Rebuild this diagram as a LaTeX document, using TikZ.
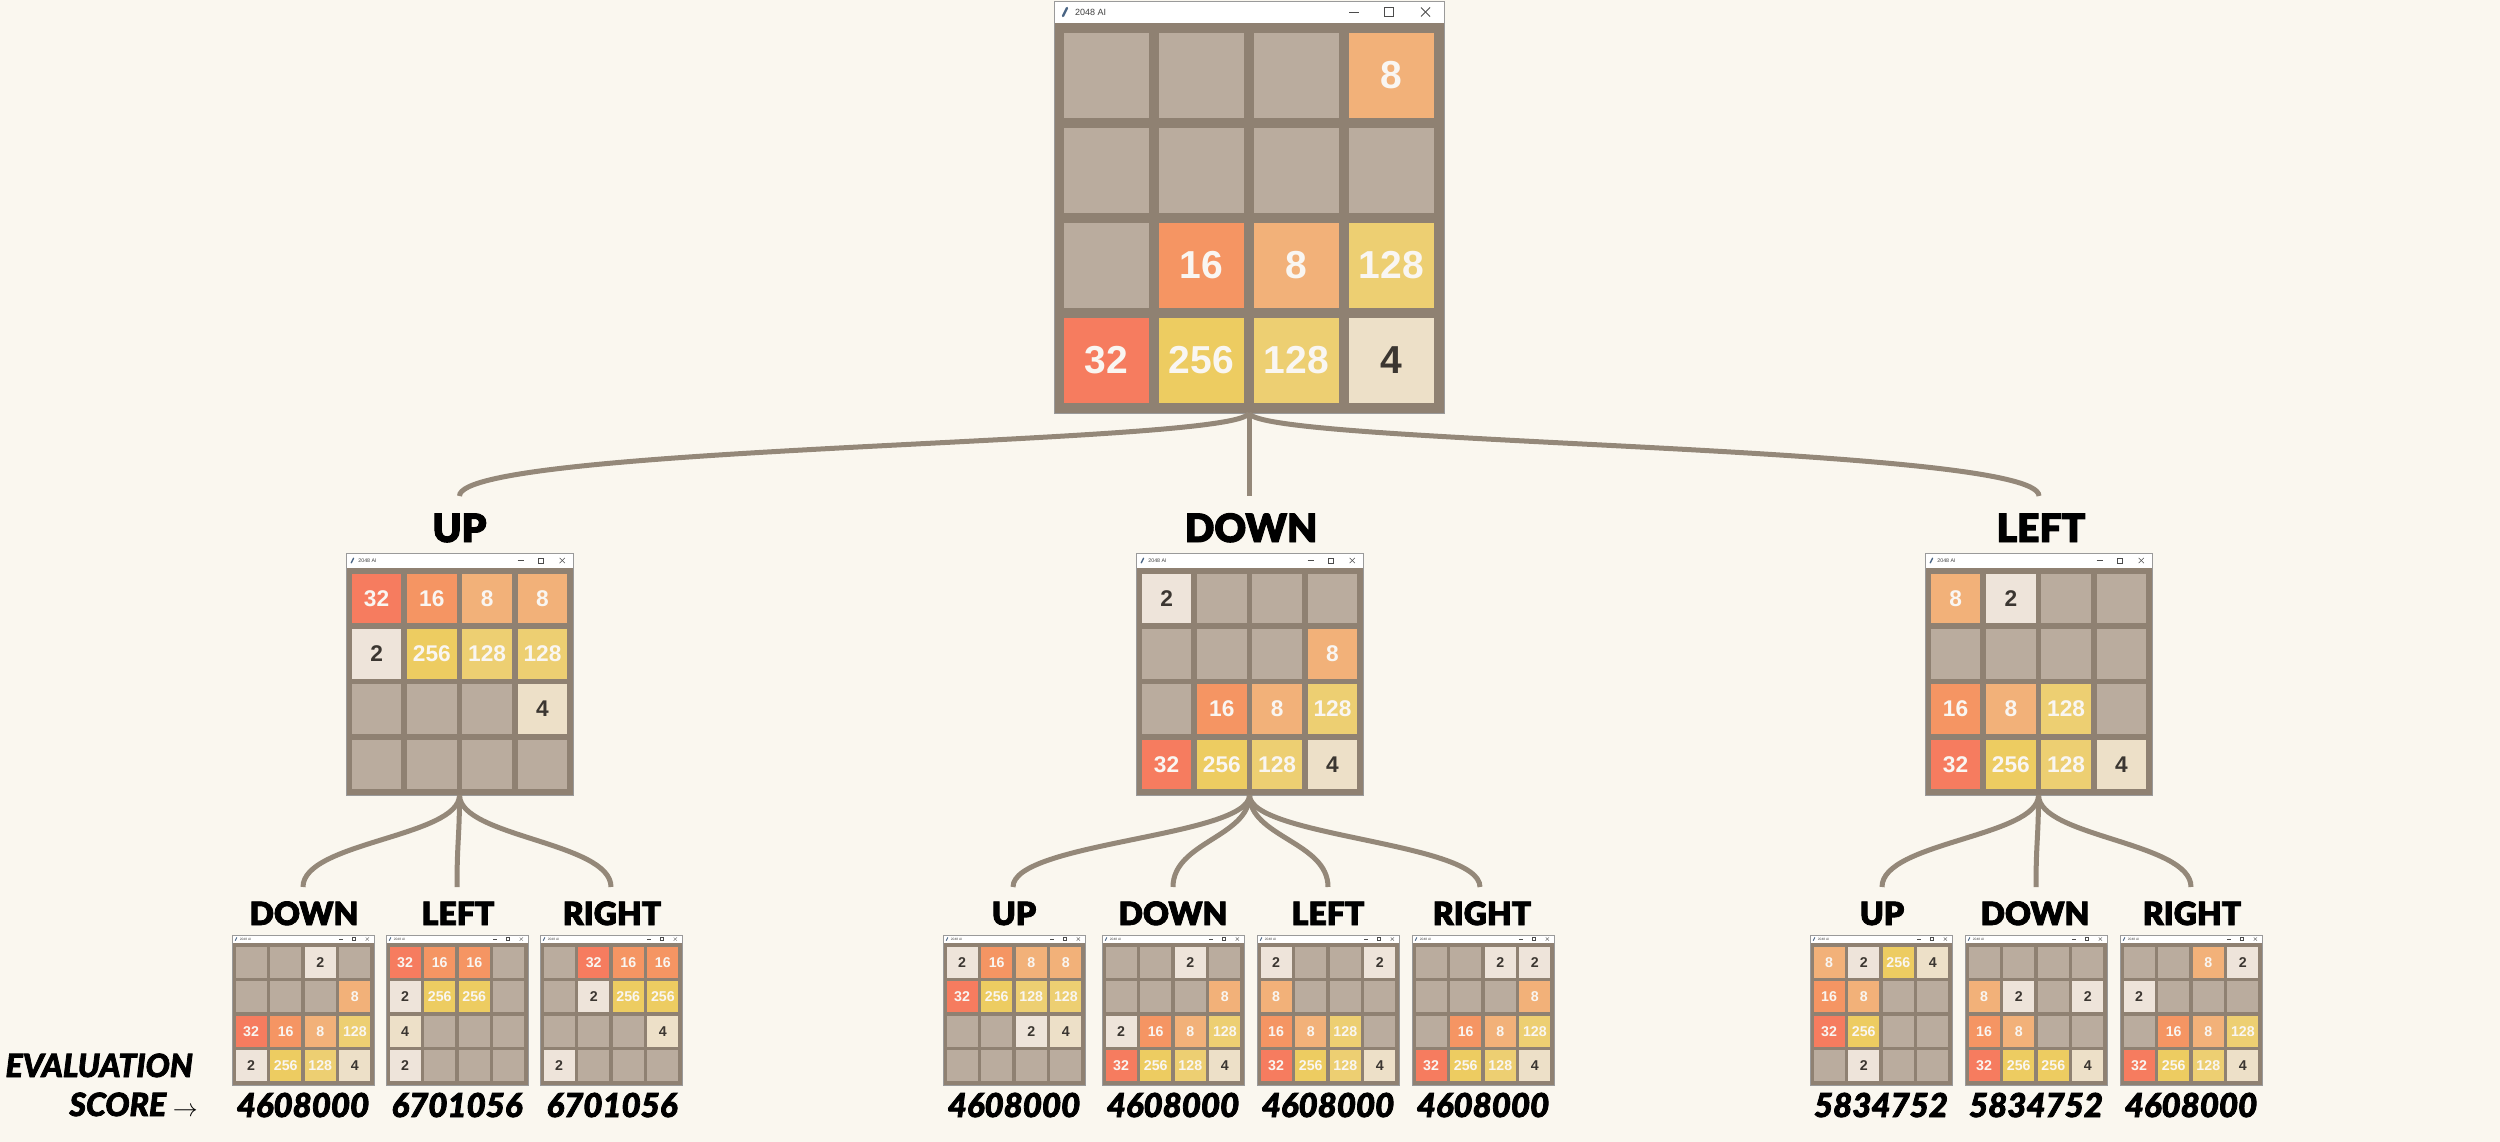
\documentclass[tikz,border=0pt]{standalone}
\usepackage{fontspec}
\setmainfont{Lato}
\newfontfamily\lblfont{Lato}[UprightFont={* Black},ItalicFont={* Black Italic},BoldFont={* Black},BoldItalicFont={* Black Italic},FakeBold=2.5,UprightFeatures={FakeBold=2.5},ItalicFeatures={FakeBold=2.5}]
\newfontfamily\tilefont{Liberation Sans}
\definecolor{bgc}{HTML}{FAF7EF}
\definecolor{boardc}{HTML}{8F8172}
\definecolor{connc}{HTML}{948879}
\definecolor{winedge}{HTML}{9A9A9A}
\definecolor{iconc}{HTML}{4A6584}
\definecolor{t0}{HTML}{BAAC9E}
\definecolor{t2}{HTML}{EEE4DA}
\definecolor{t4}{HTML}{EDE0C8}
\definecolor{t8}{HTML}{F2B179}
\definecolor{t16}{HTML}{F59563}
\definecolor{t32}{HTML}{F67C5F}
\definecolor{t128}{HTML}{EDCF72}
\definecolor{t256}{HTML}{EDCC61}
\definecolor{darktxt}{HTML}{3B3631}
\definecolor{lighttxt}{HTML}{F9F6F2}
\tikzset{
  conn/.style={draw=connc, line width=5pt},
  mlbl/.style={font=\lblfont\fontsize{39}{39}\selectfont, anchor=base, inner sep=0pt},
  blbl/.style={font=\lblfont\fontsize{32}{32}\selectfont, anchor=base, inner sep=0pt},
  score/.style={font=\lblfont\itshape\fontsize{33}{33}\selectfont, anchor=base, inner sep=0pt},
}
% #1 name, #2 left x, #3 top y, #4 width, #5 title bar height, #6 16 values
\newcommand{\gboard}[6]{%
  \begin{scope}
  \pgfmathsetmacro\bw{#4}
  \pgfmathsetmacro\sc{#4/390}
  \pgfmathsetmacro\mg{10*\sc}
  \pgfmathsetmacro\ce{85*\sc}
  \pgfmathsetmacro\pp{95*\sc}
  \pgfmathsetmacro\fs{39*\sc}
  \pgfmathsetmacro\ts{9*\sc}
  \pgfmathsetmacro\lw{0.9*\sc}
  \pgfmathsetmacro\by{#3+#5}
  \pgfmathsetmacro\ym{#3+#5/2}
  \pgfmathsetmacro\xr{#2+#4}
  \fill[white] (#2,#3) rectangle (\xr,\by);
  \fill[boardc] (#2,\by) rectangle (\xr,\by+\bw);
  \draw[winedge, line width=\lw pt] (#2,#3) rectangle (\xr,\by+\bw);
  \draw[iconc, line width=2.4*\sc pt, line cap=round] (#2+9*\sc,\ym+4*\sc) -- (#2+13*\sc,\ym-4*\sc);
  \node[anchor=west, inner sep=0pt, text=black!75, font=\tilefont\fontsize{\ts}{\ts}\selectfont] at (#2+21*\sc,\ym) {2048 AI};
  \draw[black!70, line width=\lw pt] (\xr-95*\sc,\ym) -- ++(10*\sc,0);
  \draw[black!70, line width=\lw pt] (\xr-60*\sc,\ym-4.5*\sc) rectangle ++(9*\sc,9*\sc);
  \draw[black!70, line width=\lw pt] (\xr-23*\sc,\ym-4.5*\sc) -- ++(9*\sc,9*\sc);
  \draw[black!70, line width=\lw pt] (\xr-23*\sc,\ym+4.5*\sc) -- ++(9*\sc,-9*\sc);
  \foreach \v [count=\i from 0] in {#6} {
    \pgfmathtruncatemacro\rr{floor(\i/4)}
    \pgfmathtruncatemacro\cc{\i-4*\rr}
    \pgfmathsetmacro\xx{#2+\mg+\cc*\pp}
    \pgfmathsetmacro\yy{\by+\mg+\rr*\pp}
    \fill[t\v] (\xx,\yy) rectangle ++(\ce,\ce);
    \ifnum\v=0\relax\else
      \ifnum\v>4 \def\tc{lighttxt}\else\def\tc{darktxt}\fi
      \node[text=\tc, inner sep=0pt, font=\tilefont\bfseries\fontsize{\fs}{\fs}\selectfont] at (\xx+\ce/2,\yy+\ce/2) {\v};
    \fi
  }
  \coordinate (#1-s) at (#2+\bw/2,\by+\bw);
  \end{scope}}
\begin{document}
\begin{tikzpicture}[x=1pt,y=-1pt]
\fill[bgc] (0,0) rectangle (2500,1142);
\useasboundingbox (0,0) rectangle (2500,1142);
% boards
\gboard{top}{1054}{1}{390}{22}{0,0,0,8,0,0,0,0,0,16,8,128,32,256,128,4}
\gboard{mU}{346}{553}{227}{15}{32,16,8,8,2,256,128,128,0,0,0,4,0,0,0,0}
\gboard{mD}{1136}{553}{227}{15}{2,0,0,0,0,0,0,8,0,16,8,128,32,256,128,4}
\gboard{mL}{1925}{553}{227}{15}{8,2,0,0,0,0,0,0,16,8,128,0,32,256,128,4}
\gboard{uD}{232}{935}{142}{8}{0,0,2,0,0,0,0,8,32,16,8,128,2,256,128,4}
\gboard{uL}{386}{935}{142}{8}{32,16,16,0,2,256,256,0,4,0,0,0,2,0,0,0}
\gboard{uR}{540}{935}{142}{8}{0,32,16,16,0,2,256,256,0,0,0,4,2,0,0,0}
\gboard{dU}{943}{935}{142}{8}{2,16,8,8,32,256,128,128,0,0,2,4,0,0,0,0}
\gboard{dD}{1102}{935}{142}{8}{0,0,2,0,0,0,0,8,2,16,8,128,32,256,128,4}
\gboard{dL}{1257}{935}{142}{8}{2,0,0,2,8,0,0,0,16,8,128,0,32,256,128,4}
\gboard{dR}{1412}{935}{142}{8}{0,0,2,2,0,0,0,8,0,16,8,128,32,256,128,4}
\gboard{lU}{1810}{935}{142}{8}{8,2,256,4,16,8,0,0,32,256,0,0,0,2,0,0}
\gboard{lD}{1965}{935}{142}{8}{0,0,0,0,8,2,0,2,16,8,0,0,32,256,256,4}
\gboard{lR}{2120}{935}{142}{8}{0,0,8,2,2,0,0,0,0,16,8,128,32,256,128,4}
% labels
\node[mlbl] (LmU) at (459.5,542) {UP};
\node[mlbl] (LmD) at (1251,542) {DOWN};
\node[mlbl] (LmL) at (2041,542) {LEFT};
\node[blbl] (LuD) at (304,925) {DOWN};
\node[blbl] (LuL) at (458,925) {LEFT};
\node[blbl] (LuR) at (612,925) {RIGHT};
\node[blbl] (LdU) at (1014,925) {UP};
\node[blbl] (LdD) at (1173,925) {DOWN};
\node[blbl] (LdL) at (1328,925) {LEFT};
\node[blbl] (LdR) at (1482,925) {RIGHT};
\node[blbl] (LlU) at (1882,925) {UP};
\node[blbl] (LlD) at (2035,925) {DOWN};
\node[blbl] (LlR) at (2192,925) {RIGHT};
% scores
\node[score] (SuD) at (303,1117) {4608000};
\node[score] (SuL) at (457,1117) {6701056};
\node[score] (SuR) at (612,1117) {6701056};
\node[score] (SdU) at (1014,1117) {4608000};
\node[score] (SdD) at (1173,1117) {4608000};
\node[score] (SdL) at (1328,1117) {4608000};
\node[score] (SdR) at (1483,1117) {4608000};
\node[score] (SlU) at (1881,1117) {5834752};
\node[score] (SlD) at (2036,1117) {5834752};
\node[score] (SlR) at (2191,1117) {4608000};
\node[score, anchor=base east, font=\lblfont\itshape\fontsize{32}{32}\selectfont] (ev) at (193,1077) {EVALUATION};
\node[score, anchor=base east, font=\lblfont\itshape\fontsize{32}{32}\selectfont] (sc) at (198,1116) {SCORE $\rightarrow$};
% connector end points
\coordinate (cmU) at (459.5,496);
\coordinate (cmD) at (1249,496);
\coordinate (cmL) at (2039,496);
\coordinate (cuD) at (303,887);
\coordinate (cuL) at (457,887);
\coordinate (cuR) at (611,887);
\coordinate (cdU) at (1013,887);
\coordinate (cdD) at (1173,887);
\coordinate (cdL) at (1328,887);
\coordinate (cdR) at (1480,887);
\coordinate (clU) at (1882,887);
\coordinate (clD) at (2036,887);
\coordinate (clR) at (2191,887);
% connectors
\draw[conn] (top-s) .. controls +(-9,32) and +(0,-51) .. (cmU);
\draw[conn] (top-s) -- (cmD);
\draw[conn] (top-s) .. controls +(9,32) and +(0,-51) .. (cmL);
\foreach \e in {cuD,cuL,cuR} { \draw[conn] (mU-s) .. controls +(0,42) and +(0,-45) .. (\e); }
\foreach \e in {cdU,cdD,cdL,cdR} { \draw[conn] (mD-s) .. controls +(0,42) and +(0,-45) .. (\e); }
\foreach \e in {clU,clD,clR} { \draw[conn] (mL-s) .. controls +(0,42) and +(0,-45) .. (\e); }
\end{tikzpicture}
\end{document}
